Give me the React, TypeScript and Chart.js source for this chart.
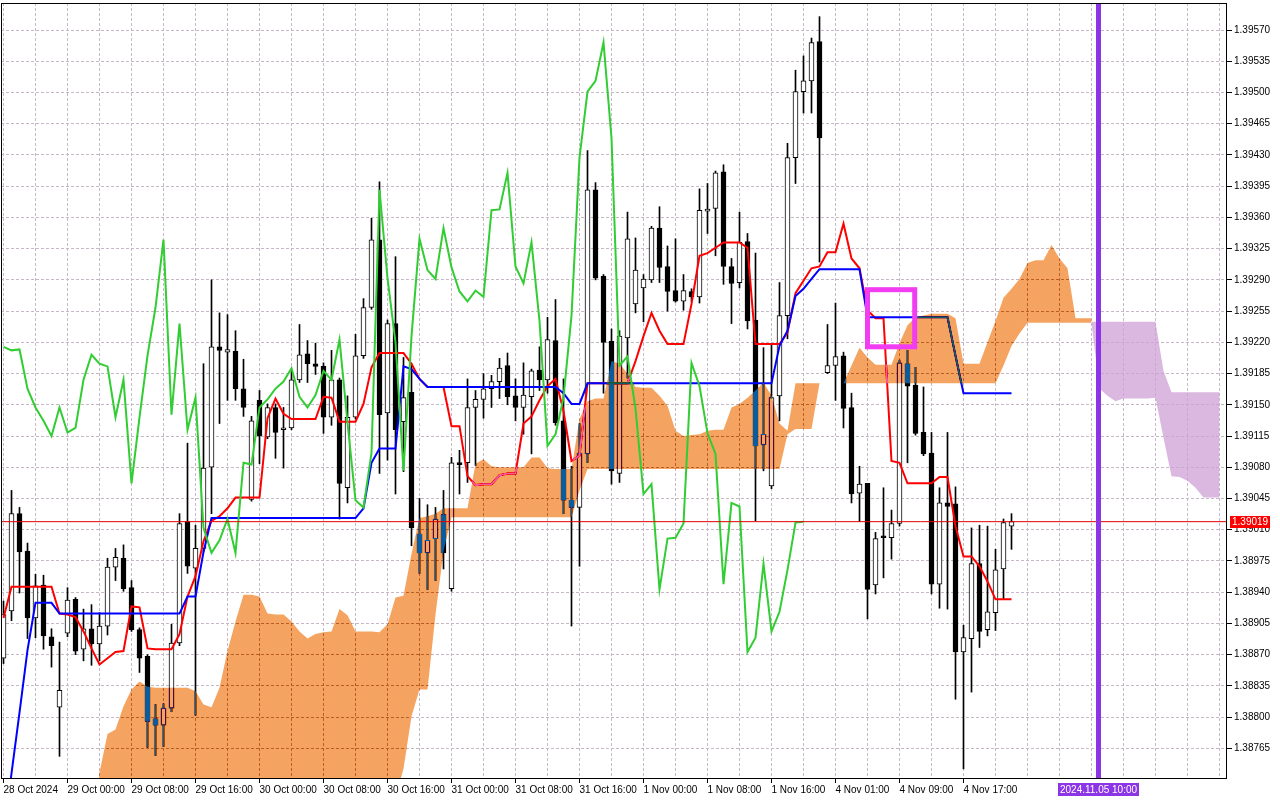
import React, { useEffect, useRef } from 'react';
import { Chart, registerables } from 'chart.js';

// ---------- DATA (H1 bars, index 0 = 28 Oct 16:00) ----------
const opens = [
  1.38866, 1.38919, 1.39028, 1.38986, 1.38911, 1.38948, 1.38890, 1.38811, 1.38894, 1.38932,
  1.38876, 1.38899, 1.38882, 1.38902, 1.38968, 1.38978, 1.38945, 1.38898, 1.38868, 1.38798,
  1.38791, 1.38810, 1.38883, 1.39019, 1.38967, 1.38989, 1.39080, 1.39215, 1.39209, 1.39210,
  1.39168, 1.39044, 1.39155, 1.39114, 1.39147, 1.39122, 1.39124, 1.39178, 1.39207, 1.39196,
  1.39193, 1.39136, 1.39178, 1.39057, 1.39136, 1.39205, 1.39259, 1.39335, 1.39141, 1.39241,
  1.39131, 1.39164, 1.39005, 1.38984, 1.39000, 1.39027, 1.38944, 1.39085, 1.39085, 1.39147,
  1.39156, 1.39168, 1.39176, 1.39194, 1.39160, 1.39147, 1.39159, 1.39189, 1.39178, 1.39222,
  1.39132, 1.39043, 1.39035, 1.39095, 1.39391, 1.39294, 1.39221, 1.39073, 1.39225, 1.39263,
  1.39281, 1.39290, 1.39348, 1.39305, 1.39278, 1.39266, 1.39277, 1.39271, 1.39367, 1.39370,
  1.39411, 1.39305, 1.39287, 1.39333, 1.39245, 1.39105, 1.39059, 1.39160, 1.39250, 1.39427,
  1.39501, 1.39513, 1.39557, 1.39186, 1.39194, 1.39205, 1.39147, 1.39051, 1.39062, 1.38948,
  1.39003, 1.39001, 1.39017, 1.39196, 1.39172, 1.39119, 1.39096, 1.38949, 1.39040, 1.39039,
  1.38873, 1.38888, 1.38972, 1.38898, 1.38917, 1.38966, 1.39014,
];
const highs = [
  1.38930, 1.39054, 1.39035, 1.38995, 1.38960, 1.38959, 1.38899, 1.38884, 1.38945, 1.38934,
  1.38921, 1.38926, 1.38917, 1.38978, 1.38989, 1.38993, 1.38953, 1.38900, 1.38870, 1.38814,
  1.38815, 1.38904, 1.39028, 1.39107, 1.39015, 1.39196, 1.39290, 1.39253, 1.39251, 1.39233,
  1.39201, 1.39137, 1.39166, 1.39151, 1.39151, 1.39147, 1.39190, 1.39240, 1.39222, 1.39219,
  1.39197, 1.39211, 1.39180, 1.39160, 1.39229, 1.39269, 1.39359, 1.39400, 1.39245, 1.39316,
  1.39203, 1.39196, 1.39045, 1.39038, 1.39035, 1.39054, 1.39091, 1.39099, 1.39179, 1.39166,
  1.39185, 1.39183, 1.39202, 1.39208, 1.39179, 1.39197, 1.39190, 1.39215, 1.39248, 1.39268,
  1.39179, 1.39081, 1.39129, 1.39435, 1.39399, 1.39296, 1.39235, 1.39233, 1.39366, 1.39337,
  1.39296, 1.39350, 1.39372, 1.39328, 1.39336, 1.39296, 1.39280, 1.39392, 1.39398, 1.39412,
  1.39419, 1.39314, 1.39366, 1.39342, 1.39320, 1.39214, 1.39218, 1.39287, 1.39443, 1.39525,
  1.39541, 1.39561, 1.39585, 1.39240, 1.39264, 1.39209, 1.39163, 1.39081, 1.39062, 1.39007,
  1.39057, 1.39032, 1.39200, 1.39211, 1.39192, 1.39170, 1.39119, 1.39057, 1.39119, 1.39058,
  1.38903, 1.39012, 1.39015, 1.39014, 1.38988, 1.39022, 1.39028,
];
const lows = [
  1.38860, 1.38908, 1.38939, 1.38888, 1.38889, 1.38876, 1.38856, 1.38756, 1.38890, 1.38870,
  1.38863, 1.38858, 1.38863, 1.38892, 1.38953, 1.38941, 1.38896, 1.38850, 1.38766, 1.38757,
  1.38767, 1.38806, 1.38880, 1.38961, 1.38802, 1.38985, 1.39028, 1.39129, 1.39155, 1.39155,
  1.39137, 1.39042, 1.39084, 1.39112, 1.39090, 1.39079, 1.39122, 1.39175, 1.39175, 1.39184,
  1.39118, 1.39127, 1.39022, 1.39040, 1.39134, 1.39202, 1.39257, 1.39073, 1.39088, 1.39050,
  1.39075, 1.38992, 1.38961, 1.38943, 1.38953, 1.38966, 1.38941, 1.39050, 1.39063, 1.39082,
  1.39135, 1.39147, 1.39157, 1.39150, 1.39132, 1.39117, 1.39095, 1.39166, 1.39163, 1.39127,
  1.39028, 1.38902, 1.38969, 1.39085, 1.39290, 1.39163, 1.39061, 1.39063, 1.39180, 1.39253,
  1.39243, 1.39287, 1.39287, 1.39255, 1.39265, 1.39256, 1.39266, 1.39264, 1.39342, 1.39317,
  1.39285, 1.39241, 1.39281, 1.39235, 1.39020, 1.39076, 1.39056, 1.39132, 1.39224, 1.39398,
  1.39477, 1.39477, 1.39310, 1.39185, 1.39155, 1.39124, 1.39040, 1.39019, 1.38910, 1.38938,
  1.38956, 1.38977, 1.39014, 1.39085, 1.39116, 1.39093, 1.38938, 1.38922, 1.38921, 1.38820,
  1.38742, 1.38828, 1.38878, 1.38891, 1.38897, 1.38932, 1.38988,
];
const closes = [
  1.38915, 1.39028, 1.38985, 1.38911, 1.38947, 1.38891, 1.38880, 1.38830, 1.38931, 1.38874,
  1.38899, 1.38882, 1.38902, 1.38968, 1.38979, 1.38944, 1.38898, 1.38866, 1.38795, 1.38791,
  1.38810, 1.38883, 1.39017, 1.38969, 1.38989, 1.39079, 1.39215, 1.39211, 1.39212, 1.39168,
  1.39147, 1.39132, 1.39115, 1.39147, 1.39119, 1.39124, 1.39178, 1.39206, 1.39196, 1.39193,
  1.39136, 1.39178, 1.39062, 1.39136, 1.39205, 1.39259, 1.39335, 1.39139, 1.39241, 1.39122,
  1.39158, 1.39012, 1.38984, 1.38998, 1.39022, 1.38984, 1.39085, 1.39083, 1.39147, 1.39156,
  1.39168, 1.39176, 1.39191, 1.39159, 1.39147, 1.39161, 1.39188, 1.39178, 1.39223, 1.39130,
  1.39043, 1.39035, 1.39096, 1.39391, 1.39292, 1.39220, 1.39076, 1.39227, 1.39336, 1.39301,
  1.39291, 1.39348, 1.39304, 1.39277, 1.39266, 1.39278, 1.39271, 1.39368, 1.39369, 1.39410,
  1.39305, 1.39286, 1.39332, 1.39244, 1.39104, 1.39117, 1.39158, 1.39250, 1.39427, 1.39501,
  1.39513, 1.39556, 1.39449, 1.39194, 1.39204, 1.39146, 1.39050, 1.39061, 1.38943, 1.39000,
  1.39001, 1.39017, 1.39197, 1.39171, 1.39118, 1.39095, 1.38949, 1.39040, 1.39036, 1.38873,
  1.38889, 1.38972, 1.38896, 1.38918, 1.38965, 1.39018, 1.39019,
];

// Tenkan-sen (red)
const tenkan = [
  1.38911, 1.38946, 1.38946, 1.38946, 1.38946, 1.38946, 1.38946, 1.38916, 1.38915, 1.38912,
  1.38896, 1.38877, 1.38859, 1.38866, 1.38873, 1.38874, 1.38924, 1.38923, 1.38877, 1.38876,
  1.38876, 1.38876, 1.38893, 1.38935, 1.38958, 1.38997, 1.39020, 1.39025, 1.39034, 1.39046,
  1.39046, 1.39046, 1.39046, 1.39135, 1.39157, 1.39140, 1.39134, 1.39134, 1.39134, 1.39134,
  1.39159, 1.39158, 1.39131, 1.39131, 1.39131, 1.39151, 1.39192, 1.39208, 1.39208, 1.39208,
  1.39208, 1.39196, 1.39179, 1.39170, 1.39170, 1.39170, 1.39126, 1.39126, 1.39070, 1.39060,
  1.39061, 1.39061, 1.39071, 1.39073, 1.39073, 1.39129, 1.39137, 1.39155, 1.39171, 1.39179,
  1.39143, 1.39087, 1.39093, 1.39174, 1.39174, 1.39174, 1.39174, 1.39174, 1.39174, 1.39199,
  1.39227, 1.39253, 1.39233, 1.39218, 1.39218, 1.39218, 1.39263, 1.39317, 1.39320, 1.39326,
  1.39332, 1.39332, 1.39332, 1.39326, 1.39218, 1.39218, 1.39218, 1.39218, 1.39231, 1.39275,
  1.39289, 1.39303, 1.39305, 1.39321, 1.39321, 1.39353, 1.39314, 1.39303, 1.39256, 1.39247,
  1.39247, 1.39087, 1.39085, 1.39062, 1.39062, 1.39062, 1.39062, 1.39069, 1.39069, 1.39014,
  1.38980, 1.38980, 1.38969, 1.38952, 1.38932, 1.38932, 1.38932,
];

// Kijun-sen (blue)
const kijun = [
  1.38667, 1.38737, 1.38805, 1.38875, 1.38928, 1.38928, 1.38928, 1.38916, 1.38916, 1.38916,
  1.38916, 1.38916, 1.38916, 1.38916, 1.38916, 1.38916, 1.38916, 1.38916, 1.38916, 1.38916,
  1.38916, 1.38916, 1.38916, 1.38935, 1.38935, 1.38985, 1.39023, 1.39023, 1.39023, 1.39023,
  1.39023, 1.39023, 1.39023, 1.39023, 1.39023, 1.39023, 1.39023, 1.39023, 1.39023, 1.39023,
  1.39023, 1.39023, 1.39023, 1.39023, 1.39023, 1.39034, 1.39085, 1.39101, 1.39101, 1.39101,
  1.39193, 1.39190, 1.39179, 1.39170, 1.39170, 1.39170, 1.39170, 1.39170, 1.39170, 1.39170,
  1.39170, 1.39170, 1.39170, 1.39170, 1.39170, 1.39170, 1.39170, 1.39170, 1.39170, 1.39170,
  1.39163, 1.39151, 1.39151, 1.39174, 1.39174, 1.39174, 1.39174, 1.39174, 1.39174, 1.39174,
  1.39174, 1.39174, 1.39174, 1.39174, 1.39174, 1.39174, 1.39174, 1.39174, 1.39174, 1.39174,
  1.39174, 1.39174, 1.39174, 1.39174, 1.39174, 1.39174, 1.39174, 1.39216, 1.39233, 1.39272,
  1.39280, 1.39291, 1.39302, 1.39302, 1.39302, 1.39302, 1.39302, 1.39302, 1.39248, 1.39248,
  1.39248, 1.39248, 1.39248, 1.39248, 1.39248, 1.39248, 1.39248, 1.39248, 1.39248, 1.39205,
  1.39163, 1.39163, 1.39163, 1.39163, 1.39163, 1.39163, 1.39163,
];

// Chikou span (green), starting at bar 0
const chikou = [
  1.39215, 1.39211, 1.39212, 1.39168, 1.39147, 1.39132, 1.39115, 1.39147, 1.39119, 1.39124,
  1.39178, 1.39206, 1.39196, 1.39193, 1.39136, 1.39178, 1.39062, 1.39136, 1.39205, 1.39259,
  1.39335, 1.39139, 1.39241, 1.39122, 1.39158, 1.39012, 1.38984, 1.38998, 1.39022, 1.38984,
  1.39085, 1.39083, 1.39147, 1.39156, 1.39168, 1.39176, 1.39191, 1.39159, 1.39147, 1.39161,
  1.39188, 1.39178, 1.39223, 1.39130, 1.39043, 1.39035, 1.39096, 1.39391, 1.39292, 1.39220,
  1.39076, 1.39227, 1.39336, 1.39301, 1.39291, 1.39348, 1.39304, 1.39277, 1.39266, 1.39278,
  1.39271, 1.39368, 1.39369, 1.39410, 1.39305, 1.39286, 1.39332, 1.39244, 1.39104, 1.39117,
  1.39158, 1.39250, 1.39427, 1.39501, 1.39513, 1.39556, 1.39449, 1.39194, 1.39204, 1.39146,
  1.39050, 1.39061, 1.38943, 1.39000, 1.39001, 1.39017, 1.39197, 1.39171, 1.39118, 1.39095,
  1.38949, 1.39040, 1.39036, 1.38873, 1.38889, 1.38972, 1.38896, 1.38918, 1.38965, 1.39018,
  1.39019,
];

// Kumo (orange), bars 11..136
const cloudStart = 11;
const cloudUpper = [
  1.38640, 1.38738, 1.38781, 1.38786, 1.38812, 1.38831, 1.38840, 1.38834, 1.38833, 1.38833,
  1.38833, 1.38833, 1.38833, 1.38829, 1.38814, 1.38811, 1.38833, 1.38874, 1.38907, 1.38937,
  1.38937, 1.38935, 1.38916, 1.38915, 1.38915, 1.38907, 1.38896, 1.38888, 1.38893, 1.38895,
  1.38896, 1.38921, 1.38914, 1.38896, 1.38896, 1.38896, 1.38895, 1.38904, 1.38934, 1.38936,
  1.38983, 1.39023, 1.39025, 1.39028, 1.39034, 1.39034, 1.39034, 1.39034, 1.39084, 1.39089,
  1.39081, 1.39080, 1.39080, 1.39080, 1.39080, 1.39091, 1.39091, 1.39079, 1.39078, 1.39078,
  1.39078, 1.39134, 1.39154, 1.39157, 1.39157, 1.39199, 1.39196, 1.39185, 1.39170, 1.39169,
  1.39169, 1.39160, 1.39149, 1.39121, 1.39115, 1.39116, 1.39117, 1.39121, 1.39122, 1.39122,
  1.39147, 1.39151, 1.39158, 1.39166, 1.39175, 1.39160, 1.39129, 1.39121, 1.39174, 1.39174,
  1.39174, 1.39174, 1.39174, 1.39174, 1.39174, 1.39194, 1.39214, 1.39203, 1.39195, 1.39195,
  1.39195, 1.39219, 1.39239, 1.39248, 1.39250, 1.39252, 1.39252, 1.39252, 1.39247, 1.39196,
  1.39196, 1.39196, 1.39220, 1.39244, 1.39270, 1.39280, 1.39291, 1.39309, 1.39312, 1.39312,
  1.39329, 1.39314, 1.39303, 1.39247, 1.39247, 1.39247,
];
const cloudLower = [
  1.38600, 1.38600, 1.38600, 1.38600, 1.38600, 1.38600, 1.38600, 1.38600, 1.38600, 1.38600,
  1.38600, 1.38600, 1.38600, 1.38600, 1.38600, 1.38600, 1.38600, 1.38600, 1.38600, 1.38600,
  1.38600, 1.38600, 1.38600, 1.38600, 1.38600, 1.38600, 1.38600, 1.38600, 1.38600, 1.38600,
  1.38600, 1.38600, 1.38600, 1.38600, 1.38600, 1.38600, 1.38600, 1.38600, 1.38710, 1.38742,
  1.38801, 1.38831, 1.38831, 1.38915, 1.38986, 1.39024, 1.39024, 1.39024, 1.39024, 1.39024,
  1.39024, 1.39024, 1.39024, 1.39024, 1.39024, 1.39024, 1.39024, 1.39024, 1.39024, 1.39024,
  1.39024, 1.39054, 1.39078, 1.39078, 1.39078, 1.39078, 1.39078, 1.39078, 1.39078, 1.39078,
  1.39078, 1.39078, 1.39078, 1.39078, 1.39078, 1.39078, 1.39078, 1.39078, 1.39078, 1.39078,
  1.39078, 1.39078, 1.39078, 1.39078, 1.39078, 1.39078, 1.39078, 1.39117, 1.39123, 1.39123,
  1.39123, 1.39174, 1.39174, 1.39174, 1.39174, 1.39174, 1.39174, 1.39174, 1.39174, 1.39174,
  1.39174, 1.39174, 1.39174, 1.39174, 1.39174, 1.39174, 1.39174, 1.39174, 1.39174, 1.39174,
  1.39174, 1.39174, 1.39174, 1.39174, 1.39194, 1.39216, 1.39230, 1.39242, 1.39242, 1.39242,
  1.39242, 1.39242, 1.39242, 1.39242, 1.39242, 1.39242,
];

// Projected kumo (lilac), bars 136..152
const lilacStart = 136;
const lilacUpper = [
  1.39243, 1.39243, 1.39243, 1.39243, 1.39243, 1.39243, 1.39243, 1.39243, 1.39243, 1.39188,
  1.39164, 1.39164, 1.39164, 1.39164, 1.39164, 1.39164, 1.39164,
];
const lilacLower = [
  1.39242, 1.39168, 1.39160, 1.39154, 1.39157, 1.39157, 1.39157, 1.39157, 1.39158, 1.39113,
  1.39070, 1.39069, 1.39065, 1.39057, 1.39046, 1.39046, 1.39046,
];

const yTicks = [
  1.38765, 1.38800, 1.38835, 1.38870, 1.38905, 1.38940, 1.38975, 1.39010, 1.39045, 1.39080,
  1.39115, 1.39150, 1.39185, 1.39220, 1.39255, 1.39290, 1.39325, 1.39360, 1.39395, 1.39430,
  1.39465, 1.39500, 1.39535, 1.39570,
];
const xLabelBars = [0, 8, 16, 24, 32, 40, 48, 56, 64, 72, 80, 88, 96, 104, 112, 120];
const xLabelTexts = [
  '28 Oct 2024', '29 Oct 00:00', '29 Oct 08:00', '29 Oct 16:00', '30 Oct 00:00', '30 Oct 08:00',
  '30 Oct 16:00', '31 Oct 00:00', '31 Oct 08:00', '31 Oct 16:00', '1 Nov 00:00', '1 Nov 08:00',
  '1 Nov 16:00', '4 Nov 01:00', '4 Nov 09:00', '4 Nov 17:00',
];
const lastPrice = 1.39019;
const futureBar = 137;
const futureLabel = '2024.11.05 10:00';
const boxBars = [108, 113.9];
const boxPrices = [1.39279, 1.39215];

// ---------- STYLE ----------
const X_MIN = -0.3125;
const X_MAX = 152.9375;
const Y_MIN = 1.387306;
const Y_MAX = 1.396003;
const FONT = '"Liberation Sans", Arial, sans-serif';
const FONT_SIZE = 10;
const GRID = '#c6b8c6';

const cloudDiffPlugin = {
  id: 'cloudDiff',
  beforeDatasetDraw(chart: any, args: any) {
    const ds = chart.data.datasets[args.index];
    if (ds && ds.diffFill) {
      chart.ctx.save();
      chart.ctx.globalCompositeOperation = 'difference';
    }
  },
  afterDatasetDraw(chart: any, args: any) {
    const ds = chart.data.datasets[args.index];
    if (ds && ds.diffFill) chart.ctx.restore();
  },
};
Chart.register(cloudDiffPlugin as any, ...registerables);

export default function App() {
  const ref = useRef<HTMLCanvasElement>(null);

  useEffect(() => {
    const canvas = ref.current;
    if (!canvas) return;

    const wickData = highs.map((h, i) => ({ x: i, y: [lows[i], h] }));
    const bodyData = opens.map((o, i) => ({ x: i, y: [o, closes[i]] }));
    const bodyColors = opens.map((o, i) => (closes[i] < o ? '#000000' : '#ffffff'));
    const pts = (arr: number[], start: number) => arr.map((v, k) => ({ x: start + k, y: v }));
    const gridBars: number[] = [];
    for (let b = 0; b <= 152; b += 4) gridBars.push(b);

    const bgPlugin = {
      id: 'bg',
      beforeDraw(chart: any) {
        const { ctx, width, height } = chart;
        ctx.save();
        ctx.fillStyle = '#ffffff';
        ctx.fillRect(0, 0, width, height);
        ctx.restore();
      },
    };

    const overlayPlugin = {
      id: 'overlay',
      afterDatasetsDraw(chart: any) {
        const { ctx, chartArea, scales } = chart;
        const xs = scales.x;
        const ys = scales.y;
        ctx.save();
        // future time line
        const px = xs.getPixelForValue(futureBar);
        ctx.fillStyle = '#8c35e6';
        ctx.fillRect(Math.floor(px) - 3, chartArea.top, 5, chartArea.bottom - chartArea.top);
        // magenta box
        const bx1 = xs.getPixelForValue(boxBars[0]);
        const bx2 = xs.getPixelForValue(boxBars[1]);
        const by1 = ys.getPixelForValue(boxPrices[0]);
        const by2 = ys.getPixelForValue(boxPrices[1]);
        ctx.strokeStyle = '#f23cf2';
        ctx.lineWidth = 5;
        ctx.strokeRect(bx1, by1, bx2 - bx1, by2 - by1);
        // frame
        ctx.strokeStyle = '#000000';
        ctx.lineWidth = 1;
        ctx.strokeRect(chartArea.left + 0.5, chartArea.top + 0.5, chartArea.right - chartArea.left - 1, chartArea.bottom - chartArea.top - 1);
        ctx.restore();
      },
      afterDraw(chart: any) {
        const { ctx, chartArea, scales } = chart;
        const xs = scales.x;
        const ys = scales.y;
        ctx.save();
        ctx.font = `${FONT_SIZE}px ${FONT}`;
        ctx.textBaseline = 'middle';
        // current price label
        const py = Math.round(ys.getPixelForValue(lastPrice));
        ctx.fillStyle = '#ff0000';
        ctx.fillRect(chartArea.right + 3, py - 6, 40, 12);
        ctx.fillStyle = '#ffffff';
        ctx.textAlign = 'left';
        ctx.fillText(lastPrice.toFixed(5), chartArea.right + 5, py + 0.5);
        // future time label
        const px = Math.floor(xs.getPixelForValue(futureBar)) - 0.5;
        const tw = ctx.measureText(futureLabel).width;
        const bw = tw + 4;
        ctx.fillStyle = '#8c35e6';
        ctx.fillRect(Math.round(px - bw / 2), chartArea.bottom + 4, Math.round(bw), 13);
        ctx.fillStyle = '#ffffff';
        ctx.textAlign = 'center';
        ctx.fillText(futureLabel, px, chartArea.bottom + 11);
        ctx.restore();
      },
    };

    const chart = new Chart(canvas, {
      type: 'bar',
      data: {
        datasets: [
          {
            type: 'bar',
            label: 'wicks',
            data: wickData as any,
            backgroundColor: '#000000',
            borderWidth: 0,
            barThickness: 1,
            grouped: false,
            order: 10,
          } as any,
          {
            type: 'bar',
            label: 'bodies',
            data: bodyData as any,
            backgroundColor: bodyColors,
            borderColor: '#000000',
            borderWidth: 1,
            borderSkipped: false,
            barThickness: 5,
            minBarLength: 2,
            grouped: false,
            order: 9,
          } as any,
          {
            type: 'line',
            label: 'Tenkan',
            data: pts(tenkan, 0),
            borderColor: '#ff0000',
            borderWidth: 2,
            pointRadius: 0,
            fill: false,
            order: 8,
          } as any,
          {
            type: 'line',
            label: 'Kijun',
            data: pts(kijun, 0),
            borderColor: '#0000ff',
            borderWidth: 2,
            pointRadius: 0,
            fill: false,
            order: 7,
          } as any,
          {
            type: 'line',
            label: 'SpanA',
            data: pts(cloudUpper, cloudStart),
            borderColor: 'rgba(0,0,0,0)',
            borderWidth: 1,
            pointRadius: 0,
            fill: false,
            order: 6,
          } as any,
          {
            type: 'line',
            label: 'SpanB',
            data: pts(cloudLower, cloudStart),
            borderColor: 'rgba(0,0,0,0)',
            borderWidth: 1,
            backgroundColor: '#0b5b9f',
            pointRadius: 0,
            fill: '-1',
            diffFill: true,
            order: 5,
          } as any,
          {
            type: 'line',
            label: 'ProjA',
            data: pts(lilacUpper, lilacStart),
            borderColor: 'rgba(0,0,0,0)',
            borderWidth: 1,
            pointRadius: 0,
            fill: false,
            order: 4,
          } as any,
          {
            type: 'line',
            label: 'ProjB',
            data: pts(lilacLower, lilacStart),
            borderColor: 'rgba(0,0,0,0)',
            borderWidth: 1,
            backgroundColor: 'rgba(206,160,214,0.75)',
            pointRadius: 0,
            fill: '-1',
            order: 3,
          } as any,
          {
            type: 'line',
            label: 'Chikou',
            data: pts(chikou, 0),
            borderColor: '#32cd32',
            borderWidth: 2,
            pointRadius: 0,
            fill: false,
            order: 2,
          } as any,
          {
            type: 'line',
            label: 'Bid',
            data: [
              { x: X_MIN, y: lastPrice },
              { x: X_MAX, y: lastPrice },
            ],
            borderColor: '#e00000',
            borderWidth: 1,
            pointRadius: 0,
            fill: false,
            order: 1,
          } as any,
        ],
      },
      options: {
        animation: false,
        responsive: false,
        maintainAspectRatio: false,
        devicePixelRatio: 1,
        events: [],
        layout: { padding: { left: 1, top: 3, right: 0, bottom: 0 } },
        plugins: {
          legend: { display: false },
          tooltip: { enabled: false },
          title: { display: false },
          colors: { enabled: false },
        } as any,
        scales: {
          x: {
            type: 'linear',
            position: 'bottom',
            min: X_MIN,
            max: X_MAX,
            offset: false,
            afterBuildTicks: (scale: any) => {
              scale.ticks = gridBars.map((v) => ({ value: v }));
            },
            afterFit: (scale: any) => {
              scale.height = 21;
              scale.paddingLeft = 0;
              scale.paddingRight = 0;
            },
            grid: {
              offset: false,
              color: GRID,
              lineWidth: 1,
              drawTicks: true,
              tickLength: 4,
              tickWidth: 1,
              tickBorderDash: [],
              tickColor: (c: any) =>
                c.tick && xLabelBars.indexOf(c.tick.value) >= 0 ? '#000000' : 'rgba(0,0,0,0)',
            },
            border: { display: false, dash: [3, 2] },
            ticks: {
              autoSkip: false,
              maxRotation: 0,
              minRotation: 0,
              align: 'start',
              padding: 1,
              color: '#000000',
              font: { family: FONT, size: FONT_SIZE },
              callback: (v: any) => {
                const k = xLabelBars.indexOf(Number(v));
                return k >= 0 ? xLabelTexts[k] : '';
              },
            },
          } as any,
          y: {
            type: 'linear',
            position: 'right',
            min: Y_MIN,
            max: Y_MAX,
            beginAtZero: false,
            afterBuildTicks: (scale: any) => {
              scale.ticks = yTicks.map((v) => ({ value: v }));
            },
            afterFit: (scale: any) => {
              scale.width = 53;
              scale.paddingTop = 0;
              scale.paddingBottom = 0;
            },
            grid: {
              color: GRID,
              lineWidth: 1,
              drawTicks: true,
              tickLength: 5,
              tickWidth: 1,
              tickBorderDash: [],
              tickColor: '#000000',
            },
            border: { display: false, dash: [3, 2] },
            ticks: {
              autoSkip: false,
              padding: 2,
              color: '#000000',
              font: { family: FONT, size: FONT_SIZE },
              callback: (v: any) => Number(v).toFixed(5),
            },
          } as any,
        },
      },
      plugins: [bgPlugin, overlayPlugin],
    } as any);

    return () => chart.destroy();
  }, []);

  return (
    <div style={{ position: 'absolute', left: 0, top: 0, width: 1280, height: 800, background: '#ffffff' }}>
      <canvas ref={ref} width={1280} height={800} style={{ display: 'block', width: 1280, height: 800 }} />
    </div>
  );
}
